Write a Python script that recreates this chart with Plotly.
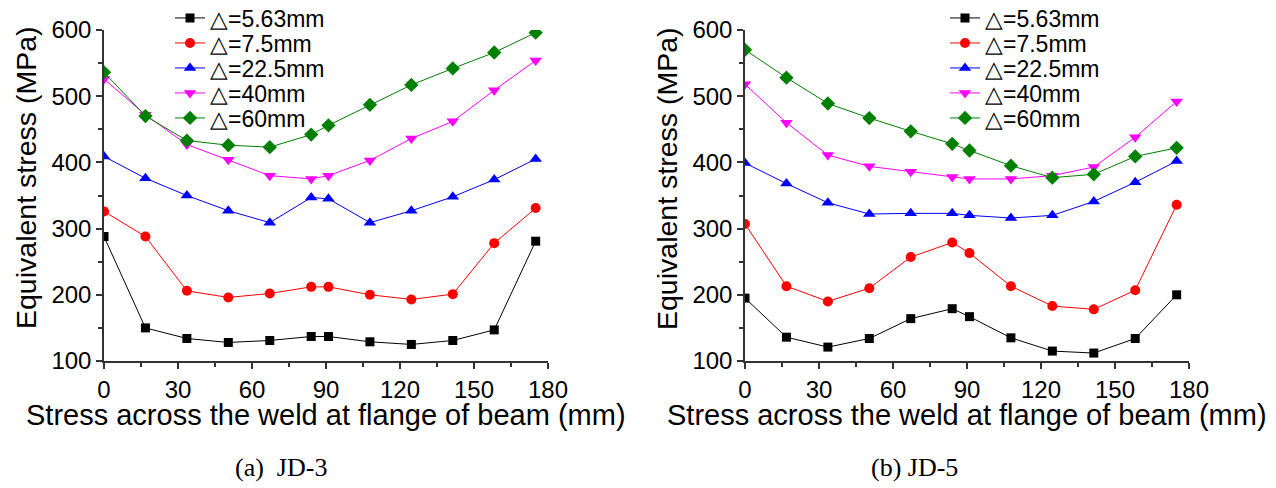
import plotly.graph_objects as go

x_pos = [0, 16.8, 33.6, 50.4, 67.2, 84, 91, 107.8, 124.6, 141.4, 158.2, 175]

series_names = ["△=5.63mm", "△=7.5mm", "△=22.5mm", "△=40mm", "△=60mm"]

jd3_563 = [288, 150, 134, 128, 131, 137, 137, 129, 125, 131, 147, 281]
jd3_75 = [326, 288, 206, 196, 202, 212, 212, 200, 193, 201, 278, 331]
jd3_225 = [409, 376, 350, 327, 309, 347, 345, 309, 327, 348, 374, 405]
jd3_40 = [526, 472, 427, 404, 380, 375, 380, 403, 436, 462, 509, 554]
jd3_60 = [536, 470, 433, 426, 423, 442, 456, 487, 517, 542, 566, 596]

jd5_563 = [195, 136, 121, 134, 164, 179, 167, 135, 115, 112, 134, 200]
jd5_75 = [307, 213, 190, 210, 257, 279, 263, 213, 183, 178, 207, 336]
jd5_225 = [399, 368, 339, 322, 323, 323, 320, 316, 320, 341, 370, 402]
jd5_40 = [518, 460, 411, 394, 386, 378, 375, 375, 380, 393, 438, 492]
jd5_60 = [570, 528, 489, 467, 447, 428, 418, 395, 377, 382, 409, 422]

x_ticks = [0, 30, 60, 90, 120, 150, 180]
y_ticks = [100, 200, 300, 400, 500, 600]
x_title = "Stress across the weld at flange of beam (mm)"
y_title = "Equivalent stress (MPa)"
captions = ["(a)  JD-3", "(b) JD-5"]

colors = ["#000000", "#ff0000", "#0000ff", "#ff00ff", "#008000"]
symbols = ["square", "circle", "triangle-up", "triangle-down", "diamond"]
msizes = [9, 10, 11, 11, 11]

W, H = 1276, 488
OX, OY = 8, 8  # page body margin


def fx(px):
    return (px - OX) / W


def fy(py):
    return 1 - (py - OY) / H


fig = go.Figure()

font_main = "Liberation Sans, Arial, sans-serif"
legend_rows_y = [18, 43, 68, 93, 118]
legend_x_px = [170, 945]

panels = [
    [jd3_563, jd3_75, jd3_225, jd3_40, jd3_60],
    [jd5_563, jd5_75, jd5_225, jd5_40, jd5_60],
]
legend_layout = {}
n = 0
for p, data in enumerate(panels):
    sfx = "" if p == 0 else str(p + 1)
    for i, vals in enumerate(data):
        n += 1
        lname = "legend" if n == 1 else "legend" + str(n)
        fig.add_trace(go.Scatter(
            x=x_pos, y=vals, mode="lines+markers", name=series_names[i],
            line=dict(color=colors[i], width=1),
            marker=dict(symbol=symbols[i], size=msizes[i], color=colors[i]),
            xaxis="x" + sfx, yaxis="y" + sfx, legend=lname,
        ))
        legend_layout[lname] = dict(
            x=fx(legend_x_px[p]), y=fy(legend_rows_y[i]),
            xanchor="left", yanchor="middle",
            font=dict(family=font_main, size=23, color="#000000"),
            bgcolor="rgba(0,0,0,0)", borderwidth=0, tracegroupgap=0,
        )

axis_common = dict(
    showline=True, linecolor="#333333", linewidth=1.5, mirror=False,
    showgrid=False, zeroline=False, automargin=False,
    ticks="outside", ticklen=6, tickwidth=1.5, tickcolor="#333333",
    tickfont=dict(family=font_main, size=24, color="#000000"),
)
plot_x = [(104, 548), (745, 1189)]
ydom = [fy(361), fy(30)]

for idx, (x0, x1) in enumerate(plot_x):
    sfx = "" if idx == 0 else str(idx + 1)
    fig.update_layout(**{
        "xaxis" + sfx: dict(
            domain=[fx(x0), fx(x1)], range=[0, 180], tickvals=x_ticks, anchor="y" + sfx,
            minor=dict(dtick=15, tick0=0, ticklen=4, ticks="outside", tickcolor="#333333", tickwidth=1.5),
            ticklabelstandoff=0,
            **axis_common),
        "yaxis" + sfx: dict(
            domain=ydom, range=[100, 600], tickvals=y_ticks, anchor="x" + sfx,
            minor=dict(dtick=50, tick0=100, ticklen=4, ticks="outside", tickcolor="#333333", tickwidth=1.5),
            **axis_common),
    })
    # axis titles
    fig.add_annotation(
        x=fx((x0 + x1) / 2), y=fy(415), xref="paper", yref="paper", text=x_title,
        showarrow=False, xanchor="center", yanchor="middle",
        font=dict(family=font_main, size=29, color="#000000"),
    )
    fig.add_annotation(
        x=fx(x0 - 78), y=fy(178), xref="paper", yref="paper", text=y_title,
        showarrow=False, xanchor="center", yanchor="middle", textangle=-90,
        font=dict(family=font_main, size=28.5, color="#000000"),
    )

fig.update_layout(**legend_layout)

for cx, txt in zip([281, 914], captions):
    fig.add_annotation(
        x=fx(cx), y=fy(467), xref="paper", yref="paper", text=txt, showarrow=False,
        font=dict(family="Liberation Serif, Times New Roman, serif", size=26, color="#000000"),
        xanchor="center", yanchor="middle",
    )

fig.update_layout(
    width=W, height=H, margin=dict(l=0, r=0, t=0, b=0, autoexpand=False),
    paper_bgcolor="white", plot_bgcolor="white", showlegend=True,
)

fig.write_html("out.html")
